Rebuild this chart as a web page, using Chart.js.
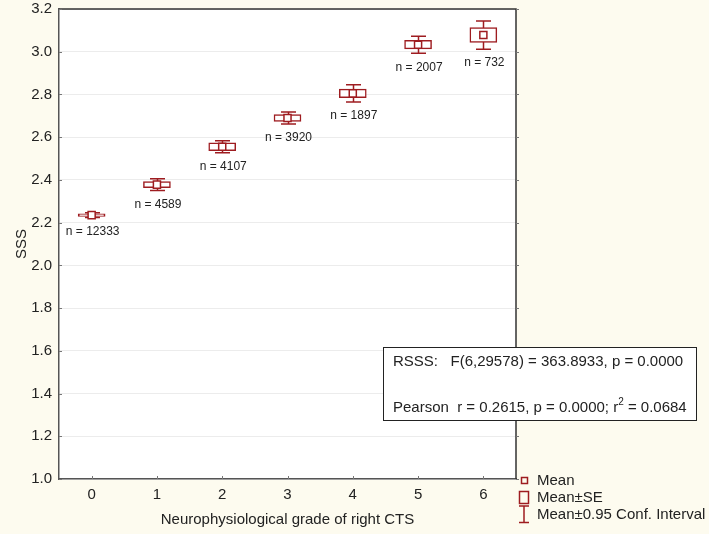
<!DOCTYPE html>
<html>
<head>
<meta charset="utf-8">
<script src="https://cdn.jsdelivr.net/npm/chart.js@4"></script>
<style>
  html, body { margin: 0; padding: 0; background: #FDFBEF; }
  #wrap { width: 709px; height: 534px; }
</style>
</head>
<body>
<div id="wrap"><canvas id="sssChart" width="709" height="534"></canvas></div>
<script>
// Neurophysiological grade (x categories)
const grades = ['0', '1', '2', '3', '4', '5', '6'];
// Mean SSS per grade
const means = [2.235, 2.378, 2.555, 2.690, 2.805, 3.033, 3.078];
// standard error of the mean
const stdErr = [0.006, 0.014, 0.018, 0.016, 0.020, 0.020, 0.035];
// half width of the 95% confidence interval
const ci95 = [0.011, 0.027, 0.028, 0.028, 0.040, 0.040, 0.066];
// group sizes
const counts = [12333, 4589, 4107, 3920, 1897, 2007, 732];
// y axis range
const yMin = 1.0, yMax = 3.2, yStep = 0.2;

const dark = '#9E1C20';
const textColor = '#222';
const fontFamily = 'Arial, "Liberation Sans", sans-serif';

// Whiskers, group counts, frame, stats box and legend
const extras = {
    id: 'extras',
    beforeDraw(chart) {
        const ctx = chart.ctx;
        const a = chart.chartArea;
        ctx.save();
        ctx.fillStyle = '#ffffff';
        ctx.fillRect(a.left, a.top, a.right - a.left, a.bottom - a.top);
        ctx.restore();
    },
    beforeDatasetsDraw(chart) {
        const ctx = chart.ctx;
        const xs = chart.scales.x, ys = chart.scales.y;
        ctx.save();
        ctx.strokeStyle = dark;
        ctx.lineWidth = 1.5;
        for (let i = 0; i < grades.length; i++) {
            const x = Math.round(xs.getPixelForValue(i)) + 0.5;
            const yT = ys.getPixelForValue(means[i] + ci95[i]);
            const yB = ys.getPixelForValue(means[i] - ci95[i]);
            ctx.beginPath();
            ctx.moveTo(x, yT); ctx.lineTo(x, yB);
            ctx.moveTo(x - 7.5, yT); ctx.lineTo(x + 7.5, yT);
            ctx.moveTo(x - 7.5, yB); ctx.lineTo(x + 7.5, yB);
            ctx.stroke();
        }
        ctx.restore();
    },
    afterDatasetsDraw(chart) {
        const ctx = chart.ctx;
        const xs = chart.scales.x, ys = chart.scales.y;
        ctx.save();
        ctx.fillStyle = textColor;
        ctx.font = '12px ' + fontFamily;
        ctx.textAlign = 'center';
        ctx.textBaseline = 'middle';
        for (let i = 0; i < grades.length; i++) {
            const x = xs.getPixelForValue(i);
            const yB = ys.getPixelForValue(means[i] - ci95[i]);
            ctx.fillText('n = ' + counts[i], x + 1, yB + 14);
        }
        ctx.restore();
    },
    afterDraw(chart) {
        const ctx = chart.ctx;
        const a = chart.chartArea;
        const xs = chart.scales.x, ys = chart.scales.y;
        ctx.save();

        // top and right frame
        ctx.strokeStyle = '#333';
        ctx.lineWidth = 1.5;
        ctx.beginPath();
        ctx.moveTo(a.left, a.top); ctx.lineTo(a.right, a.top); ctx.lineTo(a.right, a.bottom);
        ctx.stroke();

        // small tick marks
        ctx.strokeStyle = '#777';
        ctx.lineWidth = 1;
        ctx.beginPath();
        ys.ticks.forEach(t => {
            const y = Math.round(ys.getPixelForValue(t.value)) + 0.5;
            ctx.moveTo(a.left, y); ctx.lineTo(a.left + 3, y);
            ctx.moveTo(a.right, y); ctx.lineTo(a.right + 3, y);
        });
        for (let i = 0; i < grades.length; i++) {
            const x = Math.round(xs.getPixelForValue(i)) + 0.5;
            ctx.moveTo(x, a.bottom); ctx.lineTo(x, a.bottom - 3);
        }
        ctx.stroke();

        // stats box
        ctx.fillStyle = '#ffffff';
        ctx.fillRect(383.5, 347.5, 313, 73);
        ctx.strokeStyle = '#222';
        ctx.lineWidth = 1;
        ctx.strokeRect(383.5, 347.5, 313, 73);
        ctx.fillStyle = textColor;
        ctx.font = '15px ' + fontFamily;
        ctx.textAlign = 'left';
        ctx.textBaseline = 'middle';
        ctx.fillText('RSSS:   F(6,29578) = 363.8933, p = 0.0000', 393, 362);
        const line2 = 'Pearson  r = 0.2615, p = 0.0000; r';
        ctx.fillText(line2, 393, 408);
        let w = ctx.measureText(line2).width;
        ctx.font = '10px ' + fontFamily;
        ctx.fillText('2', 393 + w, 402);
        const w2 = ctx.measureText('2').width;
        ctx.font = '15px ' + fontFamily;
        ctx.fillText(' = 0.0684', 393 + w + w2, 408);

        // legend
        ctx.strokeStyle = dark;
        ctx.lineWidth = 1.5;
        ctx.strokeRect(521.5, 477.5, 6, 6);
        ctx.strokeRect(519.5, 491.5, 9, 12);
        ctx.beginPath();
        ctx.moveTo(524, 506); ctx.lineTo(524, 522.5);
        ctx.moveTo(519, 506); ctx.lineTo(529, 506);
        ctx.moveTo(519, 522.5); ctx.lineTo(529, 522.5);
        ctx.stroke();
        ctx.fillStyle = textColor;
        ctx.fillText('Mean', 537, 481);
        ctx.fillText('Mean\u00B1SE', 537, 498);
        ctx.fillText('Mean\u00B10.95 Conf. Interval', 537, 515);
        ctx.restore();
    }
};

const ctx = document.getElementById('sssChart').getContext('2d');
new Chart(ctx, {
    type: 'bar',
    data: {
        labels: grades,
        datasets: [
            {
                type: 'line',
                label: 'Mean',
                data: means,
                showLine: false,
                pointStyle: 'rect',
                pointRadius: 5,
                pointBackgroundColor: '#ffffff',
                pointBorderColor: dark,
                pointBorderWidth: 1.5,
                order: 0
            },
            {
                label: 'Mean\u00B1SE',
                data: means.map((m, i) => [m - stdErr[i], m + stdErr[i]]),
                backgroundColor: '#ffffff',
                borderColor: dark,
                borderWidth: 1.5,
                borderSkipped: false,
                barThickness: 27,
                order: 1
            }
        ]
    },
    options: {
        responsive: false,
        animation: false,
        layout: { padding: { top: 9, right: 193, left: 0, bottom: 0 } },
        plugins: {
            legend: { display: false },
            tooltip: { enabled: false }
        },
        scales: {
            x: {
                afterFit(s) { s.height = 55; },
                grid: { display: false, drawTicks: false },
                border: { color: '#555', width: 1.5 },
                ticks: { color: textColor, padding: 7, font: { size: 15, family: fontFamily } },
                title: {
                    display: true,
                    text: 'Neurophysiological grade of right CTS',
                    color: textColor,
                    font: { size: 15, family: fontFamily },
                    padding: { top: 0, bottom: 5 }
                }
            },
            y: {
                min: yMin,
                max: yMax,
                afterFit(s) { s.width = 59; s.paddingTop = 0; s.paddingBottom = 0; },
                grid: { color: '#ececec', drawTicks: false },
                border: { color: '#555', width: 1.5 },
                ticks: {
                    stepSize: yStep,
                    color: textColor,
                    padding: 7,
                    font: { size: 15, family: fontFamily },
                    callback: v => v.toFixed(1)
                },
                title: {
                    display: true,
                    text: 'SSS',
                    color: textColor,
                    font: { size: 15, family: fontFamily },
                    padding: { top: 13, bottom: 0 }
                }
            }
        }
    },
    plugins: [extras]
});
</script>
</body>
</html>
